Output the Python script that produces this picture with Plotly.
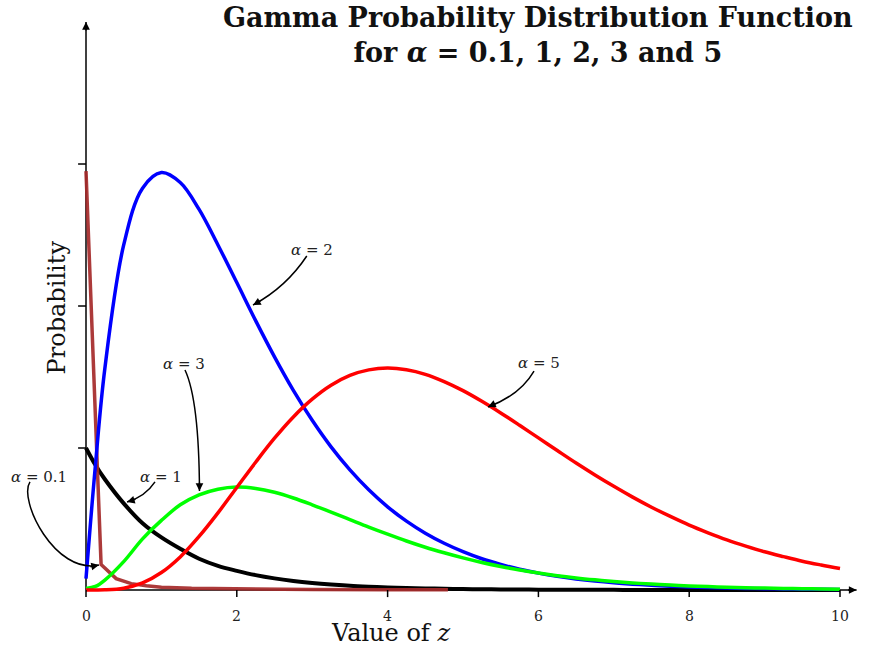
import plotly.graph_objects as go

# ---------------- data ----------------
z_grid = [0, 0.125, 0.25, 0.5, 0.75, 1, 1.25, 1.5, 1.75, 2, 2.25, 2.5, 2.75, 3,
          3.25, 3.5, 3.75, 4, 4.25, 4.5, 4.75, 5, 5.25, 5.5, 5.75, 6, 6.25, 6.5,
          6.75, 7, 7.25, 7.5, 7.75, 8, 8.25, 8.5, 8.75, 9, 9.25, 9.5, 9.75, 10]
alpha1_black = [1.00, 0.88, 0.78, 0.61, 0.47, 0.37, 0.29, 0.22, 0.17, 0.135, 0.105,
                0.082, 0.064, 0.050, 0.039, 0.030, 0.0235, 0.0183, 0.0143, 0.0111,
                0.0087, 0.0067, 0.0052, 0.0041, 0.0032, 0.0025, 0.0019, 0.0015,
                0.0012, 0.0009, 0.0007, 0.0006, 0.0004, 0.0003, 0.0003, 0.0002,
                0.0002, 0.0001, 0.0001, 0.0001, 0.0001, 0.0]
alpha2_blue = [0.08, 0.88, 1.56, 2.43, 2.83, 2.94, 2.87, 2.68, 2.43, 2.165, 1.897,
               1.642, 1.406, 1.195, 1.008, 0.846, 0.706, 0.586, 0.485, 0.400, 0.329,
               0.270, 0.220, 0.180, 0.146, 0.119, 0.0965, 0.0782, 0.0632, 0.0511,
               0.0412, 0.0332, 0.0267, 0.0214, 0.0172, 0.0138, 0.0111, 0.0089,
               0.0071, 0.0057, 0.0045, 0.0036]
alpha3_green = [0.01, 0.025, 0.07, 0.20, 0.36, 0.49, 0.60, 0.67, 0.71, 0.725, 0.715,
                0.688, 0.648, 0.600, 0.549, 0.496, 0.443, 0.393, 0.345, 0.301,
                0.262, 0.226, 0.194, 0.166, 0.141, 0.120, 0.101, 0.085, 0.0715,
                0.0599, 0.0500, 0.0417, 0.0347, 0.0287, 0.0238, 0.0197, 0.0162,
                0.0134, 0.0110, 0.0091, 0.0074, 0.0061]
alpha5_red = [0.0, 0.0, 0.001, 0.013, 0.050, 0.123, 0.233, 0.377, 0.543, 0.722,
              0.900, 1.069, 1.219, 1.344, 1.442, 1.511, 1.550, 1.563, 1.551, 1.519,
              1.468, 1.404, 1.329, 1.247, 1.160, 1.071, 0.982, 0.894, 0.810, 0.730,
              0.654, 0.583, 0.518, 0.457, 0.403, 0.353, 0.309, 0.269, 0.235, 0.203,
              0.176, 0.151]
alpha01_z = [0, 0.2, 0.4, 0.6, 0.8, 1.0, 1.4, 2.0, 3.0, 4.0, 4.8]
alpha01_brown = [2.95, 0.18, 0.08, 0.045, 0.03, 0.02, 0.012, 0.007, 0.003, 0.002, 0.001]

x_tick_values = [0, 2, 4, 6, 8, 10]
x_tick_labels = ["0", "2", "4", "6", "8", "10"]
y_tick_values = [1, 2, 3]

title_line1 = "Gamma Probability Distribution Function"
title_line2 = "for <i>α</i> = 0.1, 1, 2, 3 and 5"
x_title = "Value of <i>z</i>"
y_title = "Probability"

SERIF = "DejaVu Serif"

# ---------------- figure ----------------
fig = go.Figure()

def add_curve(x, y, color, width, shape="spline", opacity=1.0):
    line = dict(color=color, width=width, shape=shape)
    if shape == "spline":
        line["smoothing"] = 1.0
    fig.add_trace(go.Scatter(x=x, y=y, mode="lines", opacity=opacity, line=line,
                             hoverinfo="skip", showlegend=False))

add_curve(z_grid, alpha1_black, "black", 4)
add_curve(alpha01_z, alpha01_brown, "rgb(165,42,42)", 3.5, shape="linear", opacity=0.92)
add_curve(z_grid, alpha2_blue, "#0000ff", 3.5)
add_curve(z_grid, alpha3_green, "#00ff00", 3.5)
add_curve(z_grid, alpha5_red, "#ff0000", 3.5)

X_END = 10.22
Y_END = 4.0
shapes = []
# axis lines
shapes.append(dict(type="line", xref="x", yref="y", x0=0, y0=0, x1=X_END, y1=0,
                   line=dict(color="black", width=1.5), layer="below"))
shapes.append(dict(type="line", xref="x", yref="y", x0=0, y0=0, x1=0, y1=Y_END,
                   line=dict(color="black", width=1.5), layer="below"))
# tick marks
for v in x_tick_values:
    shapes.append(dict(type="line", xref="x", yref="y", x0=v, x1=v, y0=0, y1=-0.05,
                       line=dict(color="black", width=1.5)))
for v in y_tick_values:
    shapes.append(dict(type="line", xref="x", yref="y", x0=0, x1=-0.105, y0=v, y1=v,
                       line=dict(color="black", width=1.5)))

# curved label arrows (bodies)
arrow_paths = [
    "M 2.928,2.352 Q 2.650,2.130 2.215,2.007",   # alpha = 2
    "M 1.313,1.549 Q 1.499,1.338 1.505,0.697",   # alpha = 3
    "M 5.942,1.542 Q 5.756,1.373 5.332,1.289",   # alpha = 5
    "M 0.915,0.761 Q 0.782,0.655 0.544,0.620",   # alpha = 1
    "M -0.743,0.761 C -0.902,0.634 -0.411,0.106 0.172,0.176",  # alpha = 0.1
]
for p in arrow_paths:
    shapes.append(dict(type="path", xref="x", yref="y", path=p,
                       line=dict(color="black", width=1.5)))

annotations = []
# arrow heads
heads = [(2.215, 2.007, 9, -5), (1.505, 0.697, 0, -10), (5.332, 1.289, 9, -4),
         (0.544, 0.620, 10, -3), (0.172, 0.176, -10, 2)]
for (hx, hy, ax, ay) in heads:
    annotations.append(dict(x=hx, y=hy, xref="x", yref="y", ax=ax, ay=ay, text="",
                            showarrow=True, arrowhead=2, arrowsize=1.1,
                            arrowwidth=1.4, arrowcolor="black"))
# axis arrow heads
annotations.append(dict(x=X_END, y=0, xref="x", yref="y", ax=-10, ay=0, text="",
                        showarrow=True, arrowhead=2, arrowsize=1.1, arrowwidth=1.4,
                        arrowcolor="black"))
annotations.append(dict(x=0, y=Y_END, xref="x", yref="y", ax=0, ay=10, text="",
                        showarrow=True, arrowhead=2, arrowsize=1.1, arrowwidth=1.4,
                        arrowcolor="black"))

# curve labels
labels = [("<i>α</i> = 0.1", -0.623, 0.796), ("<i>α</i> = 1", 0.995, 0.796),
          ("<i>α</i> = 3", 1.300, 1.592), ("<i>α</i> = 2", 2.997, 2.394),
          ("<i>α</i> = 5", 6.008, 1.599)]
for (t, lx, ly) in labels:
    annotations.append(dict(x=lx, y=ly, xref="x", yref="y", text=t, showarrow=False,
                            font=dict(family=SERIF, size=15, color="#222")))

# tick labels
for v, lab in zip(x_tick_values, x_tick_labels):
    annotations.append(dict(x=v, y=-0.183, xref="x", yref="y", text=lab,
                            showarrow=False, font=dict(family=SERIF, size=14, color="#222")))

# axis titles
annotations.append(dict(x=4.032, y=-0.300, xref="x", yref="y", text=x_title,
                        showarrow=False, font=dict(family=SERIF, size=24, color="#111")))
annotations.append(dict(x=-0.385, y=1.99, xref="x", yref="y", text=y_title,
                        textangle=-90, showarrow=False,
                        font=dict(family=SERIF, size=24, color="#111")))

# title (two lines, one text block)
annotations.append(dict(x=538 / 871, y=1 - 35 / 647, xref="paper", yref="paper",
                        xanchor="center", yanchor="middle", align="center",
                        text="<b>" + title_line1 + "<br>" + title_line2 + "</b>",
                        showarrow=False,
                        font=dict(family=SERIF, size=27, color="#111")))

fig.update_layout(
    width=871, height=647,
    margin=dict(l=0, r=0, t=0, b=0),
    paper_bgcolor="white", plot_bgcolor="white",
    xaxis=dict(range=[-1.1406, 10.411], visible=False, fixedrange=True),
    yaxis=dict(range=[-0.4014, 4.155], visible=False, fixedrange=True),
    shapes=shapes, annotations=annotations, showlegend=False,
)

fig.write_html("out.html")
